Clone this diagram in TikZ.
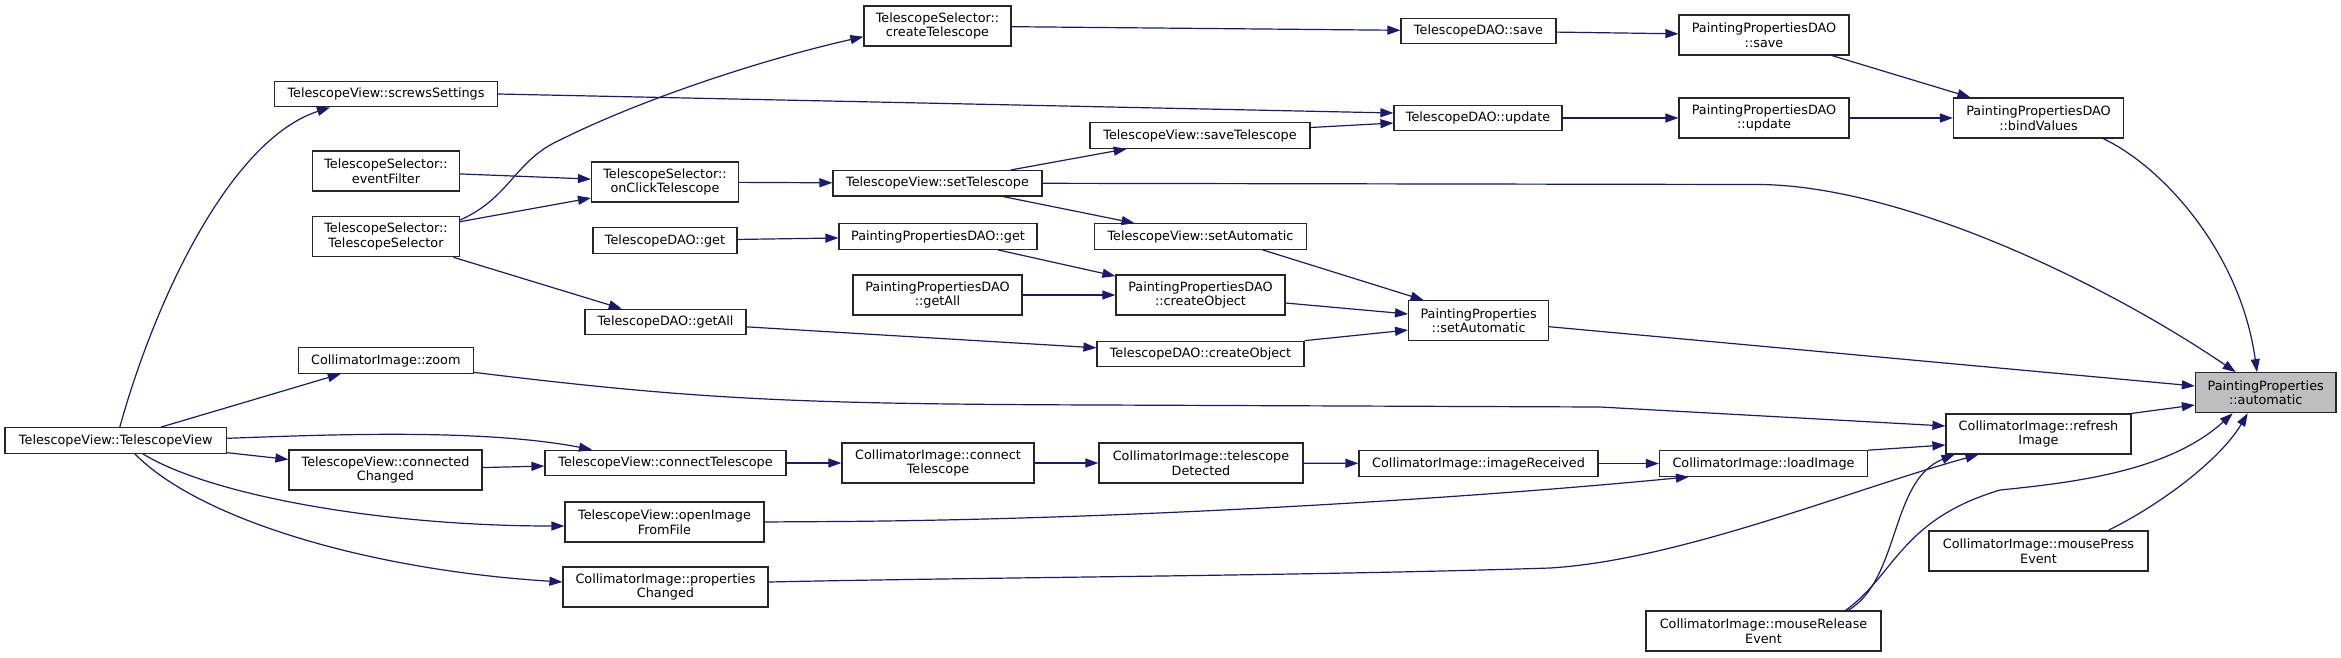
\documentclass[tikz,border=0pt]{standalone}
\usepackage{fontspec}
\setmainfont{DejaVu Sans}
\usetikzlibrary{arrows.meta}
\definecolor{edgec}{HTML}{191970}
\definecolor{hlfill}{HTML}{BFBFBF}
\begin{document}
\begin{tikzpicture}[x=1pt,y=-1pt,
  box/.style={draw=black!85, line width=1.2pt, fill=white, inner sep=0pt, align=center,
    font=\fontsize{12.8pt}{14.7pt}\selectfont, minimum height=25.5pt},
  twol/.style={minimum height=40pt},
  e/.style={draw=edgec, line width=1.2pt, -{Triangle[length=13pt,width=9pt]}}]
\useasboundingbox (0,0) rectangle (2341,657);

% nodes
\node[box, minimum width=223pt] (screws) at (386,94) {TelescopeView::screwsSettings};
\node[box, twol, minimum width=147pt] (ef) at (386,171) {TelescopeSelector::\\eventFilter};
\node[box, twol, minimum width=147pt] (ts) at (386,236.7) {TelescopeSelector::\\TelescopeSelector};
\node[box, twol, minimum width=147pt] (oc) at (665,182) {TelescopeSelector::\\onClickTelescope};
\node[box, minimum width=144pt] (tget) at (665,240.5) {TelescopeDAO::get};
\node[box, minimum width=161pt] (gall) at (665.5,322) {TelescopeDAO::getAll};
\node[box, twol, minimum width=147pt] (crt) at (937.5,26) {TelescopeSelector::\\createTelescope};
\node[box, minimum width=155pt] (tsave) at (1478.5,31) {TelescopeDAO::save};
\node[box, minimum width=168pt] (tupd) at (1478,118) {TelescopeDAO::update};
\node[box, minimum width=220pt] (svt) at (1200,135.5) {TelescopeView::saveTelescope};
\node[box, minimum width=209pt] (stt) at (937.5,183.3) {TelescopeView::setTelescope};
\node[box, minimum width=198pt] (pget) at (938,236.5) {PaintingPropertiesDAO::get};
\node[box, minimum width=212pt] (tsa) at (1200.5,236.5) {TelescopeView::setAutomatic};
\node[box, twol, minimum width=169pt] (pgall) at (937.5,295) {PaintingPropertiesDAO\\::getAll};
\node[box, twol, minimum width=169pt] (pco) at (1200.5,295) {PaintingPropertiesDAO\\::createObject};
\node[box, twol, minimum width=140pt] (psa) at (1478.6,320.7) {PaintingProperties\\::setAutomatic};
\node[box, minimum width=207pt] (tco) at (1200.5,354) {TelescopeDAO::createObject};
\node[box, twol, minimum width=170pt] (psave) at (1764,35) {PaintingPropertiesDAO\\::save};
\node[box, twol, minimum width=170pt] (pupd) at (1764,118) {PaintingPropertiesDAO\\::update};
\node[box, twol, minimum width=170pt] (bind) at (2038.5,118) {PaintingPropertiesDAO\\::bindValues};
\node[box, twol, minimum width=140.5pt, fill=hlfill] (autom) at (2265.7,392.7) {PaintingProperties\\::automatic};
\node[box, minimum width=175pt] (czoom) at (385.8,360.5) {CollimatorImage::zoom};
\node[box, minimum width=221.7pt] (tv) at (115.8,440.5) {TelescopeView::TelescopeView};
\node[box, twol, minimum width=193pt] (cch) at (385.5,470) {TelescopeView::connected\\Changed};
\node[box, minimum width=241pt] (tvct) at (665.5,463) {TelescopeView::connectTelescope};
\node[box, twol, minimum width=199pt] (oif) at (664.5,522) {TelescopeView::openImage\\FromFile};
\node[box, twol, minimum width=205pt] (pch) at (665.5,587) {CollimatorImage::properties\\Changed};
\node[box, twol, minimum width=192pt] (cict) at (938,463) {CollimatorImage::connect\\Telescope};
\node[box, twol, minimum width=204pt] (tdet) at (1201,463) {CollimatorImage::telescope\\Detected};
\node[box, minimum width=239pt] (irec) at (1478.5,463.5) {CollimatorImage::imageReceived};
\node[box, minimum width=208pt] (limg) at (1763.5,463.5) {CollimatorImage::loadImage};
\node[box, twol, minimum width=185pt] (rimg) at (2038.5,434) {CollimatorImage::refresh\\Image};
\node[box, twol, minimum width=219pt] (mpe) at (2038.5,551) {CollimatorImage::mousePress\\Event};
\node[box, twol, minimum width=235pt] (mre) at (1763.5,631) {CollimatorImage::mouseRelease\\Event};

% edges
\draw[e] ([xshift=4pt]tv.north) .. controls (155,300) and (230,140) .. ([xshift=-56pt]screws.south);
\draw[e] (tv) -- (czoom);
\draw[e] (tv) -- (cch);
\draw[e] (cch) -- (tvct);
\draw[e] ([yshift=2.2pt]tv.east) .. controls (320,435) and (480,428) .. ([xshift=-73.5pt]tvct.north);
\draw[e] ([xshift=27pt]tv.south) .. controls (210,495) and (380,526) .. ([yshift=-4pt]oif.west);
\draw[e] ([xshift=19pt]tv.south) .. controls (200,520) and (370,570) .. ([yshift=5pt]pch.west);
\draw[e] ([yshift=16.7pt]ts.east) .. controls (510,198) and (515,160) .. (560,140) .. controls (640,100) and (760,60) .. ([yshift=-10.7pt]crt.west);
\draw[e] ([yshift=15pt]ts.east) -- ([yshift=-16pt]oc.west);
\draw[e] (ef) -- (oc);
\draw[e] (ts) -- (gall);
\draw[e] (oc) -- (stt);
\draw[e] (tget) -- (pget);
\draw[e] (gall) -- (tco);
\draw[e] (crt) -- (tsave);
\draw[e] (screws.east) -- ([yshift=5pt]tupd.west);
\draw[e] ([yshift=8pt]svt.east) -- ([yshift=-5pt]tupd.west);
\draw[e] (stt) -- (svt);
\draw[e] (stt) -- (tsa);
\draw[e] (pget) -- (pco);
\draw[e] (pgall) -- (pco);
\draw[e] ([xshift=62pt]tsa.south) -- ([xshift=-55pt]psa.north);
\draw[e] ([yshift=-8pt]pco.east) -- ([yshift=6.7pt]psa.west);
\draw[e] (tco.north east) -- ([yshift=-9.3pt]psa.west);
\draw[e] (tsave) -- (psave);
\draw[e] (tupd) -- (pupd);
\draw[e] (pupd) -- (bind);
\draw[e] (psave) -- (bind);
\draw[e] ([xshift=64.5pt]bind.south) .. controls (2160,165) and (2240,250) .. ([xshift=-8.7pt]autom.north);
\draw[e] (stt.east) -- (1760,184.5) .. controls (1900,186) and (2100,280) .. ([xshift=-30pt]autom.north);
\draw[e] ([yshift=-6pt]psa.east) -- ([yshift=6.7pt]autom.west);
\draw[e] (rimg.north east) -- ([yshift=-12.3pt]autom.west);
\draw[e] ([yshift=1.5pt]czoom.south east) .. controls (700,400) and (800,404) .. (1100,405) -- (1600,407) -- ([yshift=8pt]rimg.west);
\draw[e] (limg.north east) -- ([yshift=-11pt]rimg.west);
\draw[e] (irec) -- (limg);
\draw[e] (tdet) -- (irec);
\draw[e] (cict) -- (tdet);
\draw[e] (tvct) -- (cict);
\draw[e] (oif.east) -- (800,521.7) .. controls (1100,521) and (1450,500) .. ([xshift=30pt]limg.south west);
\draw[e] ([yshift=5pt]pch.east) .. controls (1000,577) and (1300,576) .. (1550,568) .. controls (1680,560) and (1850,490) .. ([xshift=-60pt]rimg.south);
\draw[e] ([xshift=84.5pt]mre.north) .. controls (1900,580) and (1890,480) .. ([xshift=-84pt]rimg.south);
\draw[e] ([xshift=82pt]mre.north) .. controls (1895,575) and (1900,520) .. (2000,490) .. controls (2080,482) and (2170,470) .. ([xshift=-33pt]autom.south);
\draw[e] ([xshift=69.5pt]mpe.north) .. controls (2160,505) and (2220,460) .. ([xshift=-18pt]autom.south);
\end{tikzpicture}
\end{document}
